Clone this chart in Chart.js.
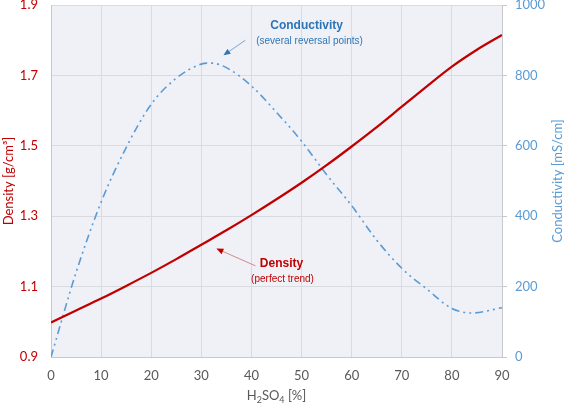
<!DOCTYPE html>
<html>
<head>
<meta charset="utf-8">
<script src="https://cdn.jsdelivr.net/npm/chart.js@4.4.1/dist/chart.umd.min.js"></script>
<style>
  html, body { margin: 0; padding: 0; background: #fff; }
  #wrap { width: 566px; height: 406px; }
</style>
</head>
<body>
<div id="wrap"><canvas id="chart" width="566" height="406"></canvas></div>
<script>
// ==================== 数据 ====================
// 密度曲线 (g/cm³)
const densityPct = [0, 5, 10, 15, 20, 25, 30, 35, 40, 45, 50, 55, 60, 65, 70, 75, 80, 85, 90];
const densityValues = [0.998, 1.032, 1.066, 1.102, 1.139, 1.178, 1.219, 1.260, 1.303, 1.348, 1.395, 1.445, 1.498, 1.553, 1.611, 1.669, 1.725, 1.773, 1.815];

// 电导率曲线 (mS/cm)
const condPct = [0, 5, 10, 15, 20, 25, 30, 32, 35, 40, 45, 50, 55, 60, 65, 70, 75, 80, 84, 90];
const condValues = [0, 240, 440, 595, 718, 792, 832, 835, 822, 770, 695, 613, 518, 430, 332, 252, 193, 138, 125, 140];

// 坐标轴刻度
const xTicks = [0, 10, 20, 30, 40, 50, 60, 70, 80, 90];
const densityTicks = [0.9, 1.1, 1.3, 1.5, 1.7, 1.9];
const condTicks = [0, 200, 400, 600, 800, 1000];

// 注释文字
const notes = [
    { axis: 'y1', x: 51, y: 940, text: 'Conductivity', bold: true, size: 12, color: '#2e75b6' },
    { axis: 'y1', x: 51.6, y: 897, text: '(several reversal points)', bold: false, size: 10, color: '#2e75b6' },
    { axis: 'y', x: 46, y: 1.165, text: 'Density', bold: true, size: 12, color: '#c00000' },
    { axis: 'y', x: 46.2, y: 1.122, text: '(perfect trend)', bold: false, size: 10, color: '#c00000' }
];
// 箭头: 起点 -> 终点
const arrows = [
    { axis: 'y1', from: [38.8, 900], to: [34.4, 857], line: '#7fa3cc', head: '#2e75b6' },
    { axis: 'y', from: [40.8, 1.159], to: [33.0, 1.208], line: '#d48a8a', head: '#c00000' }
];

const gridColor = '#d9dbe0';
const axisLine = '#c6c8cc';

// ==================== 绘图区背景 + 注释插件 ====================
const decorPlugin = {
    id: 'decor',
    beforeDraw(chart) {
        const { ctx, chartArea: a } = chart;
        ctx.save();
        ctx.fillStyle = '#eff1f6';
        ctx.fillRect(a.left, a.top, a.right - a.left, a.bottom - a.top);
        ctx.restore();
    },
    afterDraw(chart) {
        const { ctx, scales } = chart;
        const xs = scales.x;
        ctx.save();

        // 箭头
        arrows.forEach(ar => {
            const ys = scales[ar.axis];
            const x1 = xs.getPixelForValue(ar.from[0]), y1 = ys.getPixelForValue(ar.from[1]);
            const x2 = xs.getPixelForValue(ar.to[0]), y2 = ys.getPixelForValue(ar.to[1]);
            const ang = Math.atan2(y2 - y1, x2 - x1);
            ctx.strokeStyle = ar.line;
            ctx.lineWidth = 1;
            ctx.beginPath();
            ctx.moveTo(x1, y1);
            ctx.lineTo(x2 - 5 * Math.cos(ang), y2 - 5 * Math.sin(ang));
            ctx.stroke();
            ctx.fillStyle = ar.head;
            ctx.beginPath();
            ctx.moveTo(x2, y2);
            ctx.lineTo(x2 - 7 * Math.cos(ang) + 3 * Math.sin(ang), y2 - 7 * Math.sin(ang) - 3 * Math.cos(ang));
            ctx.lineTo(x2 - 7 * Math.cos(ang) - 3 * Math.sin(ang), y2 - 7 * Math.sin(ang) + 3 * Math.cos(ang));
            ctx.closePath();
            ctx.fill();
        });

        // 注释文字
        ctx.textAlign = 'center';
        ctx.textBaseline = 'middle';
        notes.forEach(n => {
            const ys = scales[n.axis];
            ctx.font = (n.bold ? 'bold ' : '') + n.size + 'px "Liberation Sans", Arial, sans-serif';
            ctx.fillStyle = n.color;
            ctx.fillText(n.text, xs.getPixelForValue(n.x), ys.getPixelForValue(n.y));
        });

        // 右侧轴标题 (自下而上)
        const r = scales.y1;
        ctx.save();
        ctx.translate(558, (r.top + r.bottom) / 2);
        ctx.rotate(-Math.PI / 2);
        ctx.font = '13px Lato, sans-serif';
        ctx.fillStyle = '#5b9bd5';
        ctx.fillText('Conductivity [mS/cm]', 0, 0);
        ctx.restore();

        // X 轴标题 H2SO4 [%]，带下标
        const parts = [['H', 0], ['2', 1], ['SO', 0], ['4', 1], [' [%]', 0]];
        const big = '13px Lato, sans-serif', small = '9px Lato, sans-serif';
        let total = 0;
        parts.forEach(p => { ctx.font = p[1] ? small : big; total += ctx.measureText(p[0]).width; });
        let px = (xs.left + xs.right) / 2 - total / 2;
        const py = 396;
        ctx.textAlign = 'left';
        ctx.fillStyle = '#595959';
        parts.forEach(p => {
            ctx.font = p[1] ? small : big;
            ctx.fillText(p[0], px, p[1] ? py + 4 : py);
            px += ctx.measureText(p[0]).width;
        });

        ctx.restore();
    }
};

// ==================== 固定轴尺寸 ====================
function fixSize(w, h) {
    return function (scale) {
        if (w !== null) scale.width = w;
        if (h !== null) scale.height = h;
        scale.paddingTop = 0;
        scale.paddingBottom = 0;
    };
}

// ==================== 创建图表 ====================
const ctx = document.getElementById('chart').getContext('2d');
new Chart(ctx, {
    type: 'line',
    data: {
        datasets: [{
            label: 'Density',
            data: densityPct.map((p, i) => ({ x: p, y: densityValues[i] })),
            yAxisID: 'y',
            borderColor: '#c00000',
            borderWidth: 2.25,
            pointRadius: 0,
            cubicInterpolationMode: 'monotone',
            fill: false,
            order: 1
        }, {
            label: 'Conductivity',
            data: condPct.map((p, i) => ({ x: p, y: condValues[i] })),
            yAxisID: 'y1',
            borderColor: '#5b9bd5',
            borderWidth: 1.6,
            borderDash: [8, 4, 2, 4, 2, 4],
            pointRadius: 0,
            cubicInterpolationMode: 'monotone',
            fill: false,
            order: 2
        }]
    },
    options: {
        responsive: false,
        animation: false,
        devicePixelRatio: 1,
        layout: { padding: { top: 5, left: 0, right: 0, bottom: 0 } },
        plugins: {
            legend: { display: false },
            tooltip: { enabled: false }
        },
        scales: {
            x: {
                type: 'linear',
                min: 0,
                max: 90,
                afterFit: fixSize(null, 49),
                afterBuildTicks: s => { s.ticks = xTicks.map(v => ({ value: v })); },
                grid: { color: gridColor, drawTicks: false },
                border: { color: axisLine },
                ticks: { color: '#595959', padding: 11, font: { family: 'Lato', size: 13 } }
            },
            y: {
                position: 'left',
                min: 0.9,
                max: 1.9,
                afterFit: fixSize(51, null),
                afterBuildTicks: s => { s.ticks = densityTicks.map(v => ({ value: v })); },
                grid: { color: gridColor, drawTicks: false },
                border: { color: axisLine },
                ticks: {
                    color: '#c00000',
                    padding: 13,
                    font: { family: 'Lato', size: 13 },
                    callback: v => v.toFixed(1)
                },
                title: {
                    display: true,
                    text: 'Density [g/cm³]',
                    color: '#c00000',
                    font: { family: 'Lato', size: 13 },
                    padding: { top: 1, bottom: 0 }
                }
            },
            y1: {
                position: 'right',
                min: 0,
                max: 1000,
                afterFit: fixSize(64, null),
                afterBuildTicks: s => { s.ticks = condTicks.map(v => ({ value: v })); },
                grid: { drawOnChartArea: false, drawTicks: true, tickLength: 5, color: axisLine },
                border: { color: axisLine },
                ticks: {
                    color: '#5b9bd5',
                    padding: 8,
                    font: { family: 'Lato', size: 13 },
                    callback: v => String(v)
                }
            }
        }
    },
    plugins: [decorPlugin]
});
</script>
</body>
</html>
